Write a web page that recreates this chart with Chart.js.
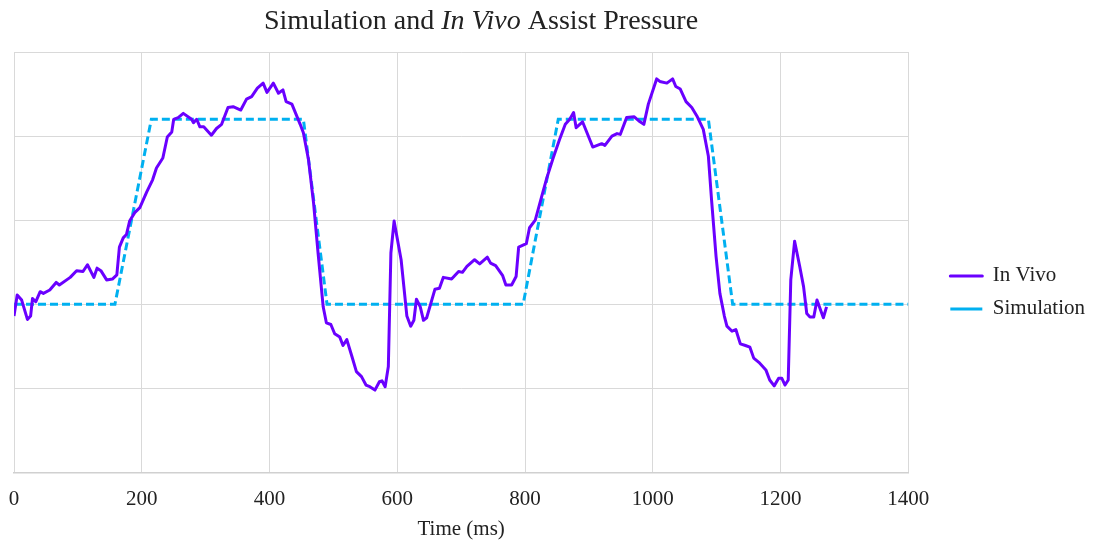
<!DOCTYPE html>
<html>
<head>
<meta charset="utf-8">
<script src="https://cdn.jsdelivr.net/npm/chart.js@4"></script>
<style>
  html, body { margin: 0; padding: 0; background: #fff; }
  #wrap { width: 1095px; height: 544px; }
</style>
</head>
<body>
<div id="wrap"><canvas id="chart" width="1095" height="544"></canvas></div>
<script>
// x axis ticks
const timeTicks = [0, 200, 400, 600, 800, 1000, 1200, 1400]

// In Vivo trace (y has no labels so units are arbitrary grid units)
const invivoTime = [0, 5, 12, 21, 26, 29, 34, 41, 46, 56, 66, 71, 88, 98, 108, 115, 125, 130, 136, 145,
    154, 161, 165, 171, 176, 181, 189, 197, 208, 217, 223, 233, 240, 247, 250, 257, 265, 278, 281, 286,
    291, 297, 309, 317, 325, 335, 343, 355, 364, 372, 381, 390, 396, 406, 414, 421, 426, 435, 448, 453,
    461, 469, 476, 484, 489, 496, 502, 510, 515, 521, 529, 536, 544, 551, 557, 565, 572, 576, 581, 586,
    590, 595, 606, 615, 621, 626, 630, 636, 641, 646, 659, 666, 672, 685, 696, 702, 709, 721, 729, 741,
    746, 754, 765, 770, 779, 786, 790, 802, 807, 816, 826, 834, 844, 854, 863, 870, 876, 880, 890, 906,
    920, 925, 936, 944, 949, 959, 971, 980, 986, 993, 1006, 1011, 1022, 1031, 1036, 1043, 1052, 1061, 1069, 1079,
    1087, 1092, 1099, 1105, 1112, 1116, 1124, 1130, 1137, 1145, 1152, 1158, 1166, 1171, 1177, 1183, 1190, 1197, 1202, 1207,
    1212, 1216, 1222, 1230, 1236, 1241, 1246, 1252, 1257, 1267, 1272]
const invivoPressure = [1.86, 2.11, 2.05, 1.82, 1.86, 2.07, 2.03, 2.15, 2.13, 2.17, 2.26, 2.23, 2.32, 2.40, 2.39, 2.47, 2.32, 2.43, 2.40, 2.29,
    2.30, 2.35, 2.68, 2.79, 2.83, 2.99, 3.09, 3.15, 3.34, 3.48, 3.62, 3.74, 3.99, 4.05, 4.20, 4.22, 4.27, 4.20, 4.16, 4.20,
    4.11, 4.11, 4.01, 4.09, 4.14, 4.34, 4.35, 4.31, 4.44, 4.47, 4.57, 4.63, 4.52, 4.63, 4.51, 4.55, 4.41, 4.38, 4.14, 4.04,
    3.72, 3.20, 2.61, 1.97, 1.78, 1.76, 1.65, 1.61, 1.51, 1.58, 1.38, 1.20, 1.14, 1.04, 1.02, 0.98, 1.08, 1.09, 1.02, 1.26,
    2.61, 2.99, 2.53, 1.86, 1.74, 1.81, 2.06, 1.97, 1.81, 1.84, 2.18, 2.19, 2.32, 2.30, 2.39, 2.38, 2.45, 2.53, 2.48, 2.56,
    2.49, 2.46, 2.34, 2.23, 2.23, 2.33, 2.68, 2.72, 2.91, 3.00, 3.28, 3.50, 3.74, 3.96, 4.14, 4.20, 4.28, 4.10, 4.17, 3.87,
    3.91, 3.89, 4.00, 4.03, 4.02, 4.22, 4.23, 4.17, 4.14, 4.38, 4.68, 4.65, 4.63, 4.68, 4.59, 4.56, 4.41, 4.34, 4.24, 4.08,
    3.76, 3.24, 2.57, 2.13, 1.86, 1.74, 1.68, 1.70, 1.53, 1.51, 1.49, 1.36, 1.31, 1.27, 1.22, 1.10, 1.03, 1.12, 1.12, 1.04,
    1.10, 2.29, 2.75, 2.45, 2.21, 1.89, 1.85, 1.85, 2.05, 1.84, 1.97]

// Simulation (trapezoid waveform)
const simTime = [0, 158, 215, 453, 490, 797, 852, 1087, 1125, 1400]
const simPressure = [2, 2, 4.2, 4.2, 2, 2, 4.2, 4.2, 2, 2]

const seriesNames = ["In Vivo", "Simulation"]
const titleParts = [["Simulation and ", "normal"], ["In Vivo", "italic"], [" Assist Pressure", "normal"]]

const serif = "'Liberation Serif', 'Times New Roman', serif"
const textColor = "#222"
const gridColor = "#d9d9d9"

function toPoints(xs, ys) {
    return xs.map((x, i) => ({ x: x, y: ys[i] }))
}

// title has an italic part so draw it by hand
const mixedTitle = {
    id: "mixedTitle",
    afterDraw(chart) {
        const ctx = chart.ctx
        ctx.save()
        ctx.fillStyle = textColor
        ctx.textBaseline = "alphabetic"
        let widths = titleParts.map(p => {
            ctx.font = p[1] + " 28px " + serif
            return ctx.measureText(p[0]).width
        })
        let total = widths.reduce((a, b) => a + b, 0)
        let x = 481 - total / 2
        titleParts.forEach((p, i) => {
            ctx.font = p[1] + " 28px " + serif
            ctx.fillText(p[0], x, 29)
            x += widths[i]
        })
        ctx.restore()
    }
}

const ctx = document.getElementById("chart").getContext("2d")

const config = {
    type: "line",
    data: {
        datasets: [
            {
                label: seriesNames[0],
                data: toPoints(invivoTime, invivoPressure),
                borderColor: "#6a00ff",
                backgroundColor: "#6a00ff",
                borderWidth: 3,
                pointRadius: 0,
                tension: 0,
                borderJoinStyle: "round"
            },
            {
                label: seriesNames[1],
                data: toPoints(simTime, simPressure),
                borderColor: "#00b0f0",
                backgroundColor: "#00b0f0",
                borderWidth: 3,
                borderDash: [8, 4],
                pointRadius: 0,
                tension: 0
            }
        ]
    },
    options: {
        responsive: false,
        animation: false,
        layout: {
            padding: { top: 52, left: 14, right: 0, bottom: 0 }
        },
        plugins: {
            title: { display: false },
            tooltip: { enabled: false },
            legend: {
                position: "right",
                fullSize: false,
                // empty title, only pushes the entries down a bit
                title: { display: true, text: "", padding: { top: 46, bottom: 0 } },
                labels: {
                    boxWidth: 32,
                    boxHeight: 0,
                    padding: 12,
                    color: textColor,
                    font: { family: serif, size: 21 }
                }
            }
        },
        scales: {
            x: {
                type: "linear",
                min: 0,
                max: 1400,
                afterBuildTicks: axis => { axis.ticks = timeTicks.map(v => ({ value: v })) },
                afterFit: axis => {
                    axis.height = 71.5
                    axis.paddingLeft = 0
                },
                ticks: {
                    color: textColor,
                    padding: 14,
                    maxRotation: 0,
                    callback: v => String(v),
                    font: { family: serif, size: 21 }
                },
                grid: { color: gridColor, drawTicks: false },
                border: { color: "#d0d0d0", width: 1.5 },
                title: {
                    display: true,
                    text: "Time (ms)",
                    color: textColor,
                    padding: { top: 4, bottom: 2 },
                    font: { family: serif, size: 21 }
                }
            },
            y: {
                min: 0,
                max: 5,
                afterFit: axis => { axis.width = 0 },
                ticks: { display: false, stepSize: 1 },
                grid: { color: gridColor, drawTicks: false },
                border: { display: false }
            },
            // empty right axis, only keeps a gap between the plot and the legend
            gap: {
                type: "linear",
                position: "right",
                afterFit: axis => { axis.width = 30 },
                ticks: { display: false },
                grid: { display: false },
                border: { display: false }
            }
        }
    },
    plugins: [mixedTitle]
}

new Chart(ctx, config)
</script>
</body>
</html>
